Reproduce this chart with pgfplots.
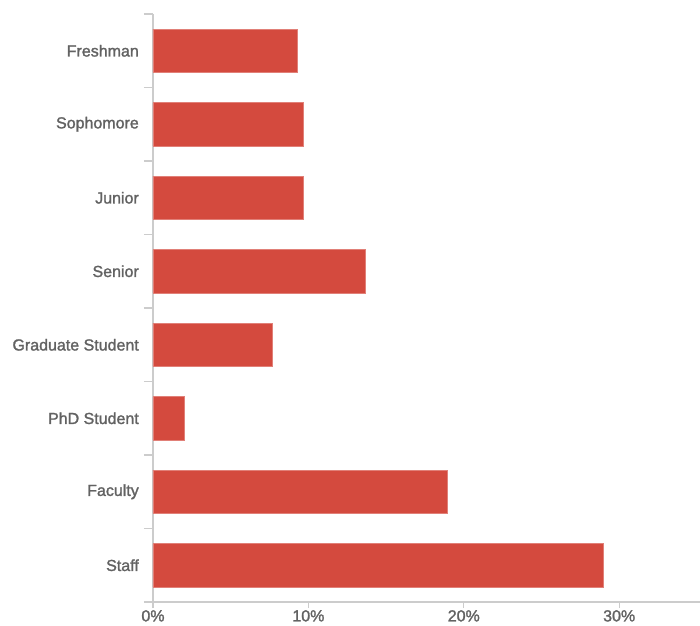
\documentclass[border=0pt]{standalone}
\usepackage{fontspec}
\setmainfont{Liberation Sans}
\newfontfamily\labelfont{Liberation Sans}[FakeBold=1.6]
\usepackage{pgfplots}
\pgfplotsset{compat=1.18}
\definecolor{barred}{HTML}{D44A3E}
\definecolor{axgray}{HTML}{CCCCCC}
\definecolor{txtgray}{HTML}{626262}
\begin{document}
\begin{tikzpicture}
\useasboundingbox (-153pt,-23pt) rectangle (547pt,602pt);
\begin{axis}[
  at={(0,0)}, anchor=south west,
  scale only axis,
  width=547pt, height=588pt,
  xbar, bar width=43.4pt,
  xmin=0, xmax=35.2,
  ymin=-0.5, ymax=7.5,
  y dir=reverse,
  ytick={0,1,2,3,4,5,6,7},
  yticklabels={Freshman,Sophomore,Junior,Senior,Graduate Student,PhD Student,Faculty,Staff},
  minor ytick={-0.5,0.5,1.5,2.5,3.5,4.5,5.5,6.5,7.5},
  major tick length=6pt,
  minor tick length=9pt,
  tick align=outside,
  xtick style={axgray, line width=1.2pt},
  ytick style={/pgfplots/major tick length=0pt},
  minor tick style={axgray, line width=1.2pt},
  xtick={0,10,20,30},
  xticklabels={0\%,10\%,20\%,30\%},
  axis x line*=bottom,
  axis y line*=left,
  axis line style={axgray, line width=1.2pt},
  x axis line style={-},
  y axis line style={-},
  tick label style={font=\labelfont\fontsize{16}{18}\selectfont, text=txtgray},
  yticklabel style={inner sep=0pt, anchor=east, xshift=-8pt},
  xticklabel style={inner sep=0pt, anchor=north, yshift=-2pt},
  clip=false,
]
\addplot[fill=barred, draw=barred!70!white, line width=0.5pt] coordinates {
  (9.29,0) (9.66,1) (9.66,2) (13.69,3) (7.67,4) (2.0,5) (18.95,6) (28.98,7)
};
\end{axis}
\end{tikzpicture}
\end{document}
